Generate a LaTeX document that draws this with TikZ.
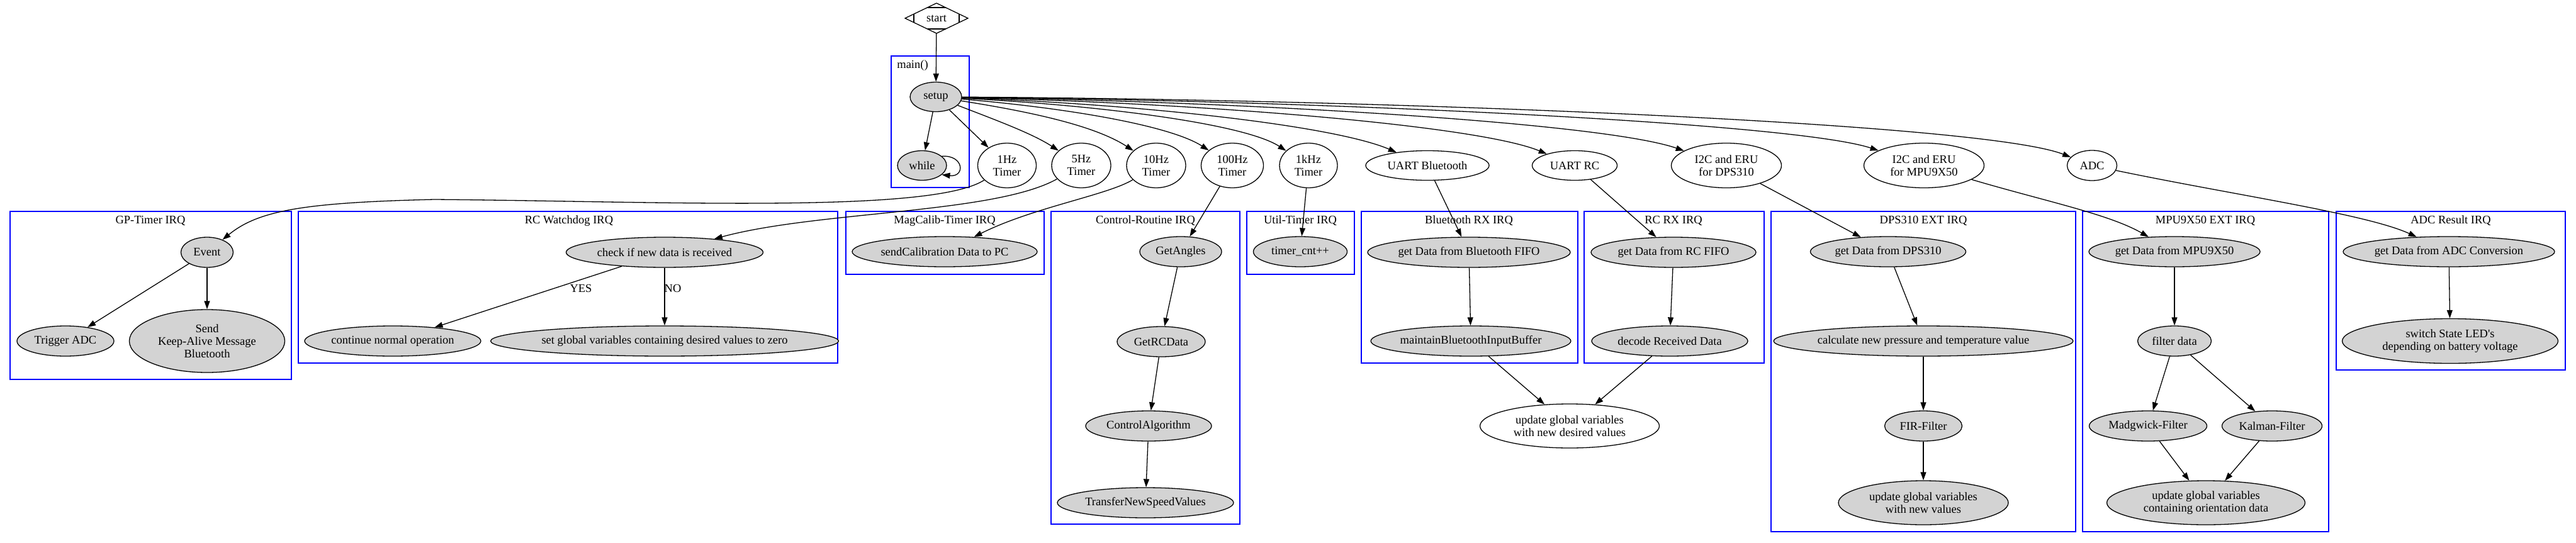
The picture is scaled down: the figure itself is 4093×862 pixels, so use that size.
\documentclass[tikz,border=0pt]{standalone}
\usepackage{fontspec}
\setmainfont{Liberation Serif}
\usetikzlibrary{shapes.geometric,arrows.meta,calc}
\definecolor{gvgray}{HTML}{D3D3D3}
\tikzset{
  task/.style={ellipse, draw, fill=gvgray, inner sep=0pt, align=center},
  event/.style={ellipse, draw, fill=white, inner sep=0pt, align=center},
  cluster/.style={draw=blue},
  clabel/.style={inner sep=0pt},
  wh/.style 2 args={minimum width=#1pt, minimum height=#2pt},
}
\begin{document}
\begin{tikzpicture}[x=1pt, y=-1pt, >={Triangle[length=13pt,width=9pt]}, line width=1.3pt, font=\fontsize{18.5}{20}\selectfont]
\useasboundingbox (0,0) rectangle (4093,862);

% clusters
\draw[cluster] (1416,89) rectangle (1540,298);
\node[clabel] (lmain) at (1450,104) {main()};
\draw[cluster] (16,336) rectangle (463,603);
\node[clabel] (lgp) at (239,351) {GP-Timer IRQ};
\draw[cluster] (474,336) rectangle (1331,577);
\node[clabel] (lwd) at (904,351) {RC Watchdog IRQ};
\draw[cluster] (1344,336) rectangle (1659,436);
\node[clabel] (lmag) at (1501,351) {MagCalib-Timer IRQ};
\draw[cluster] (1670,336) rectangle (1970,833);
\node[clabel] (lctrl) at (1820,351) {Control-Routine IRQ};
\draw[cluster] (1981,336) rectangle (2152,436);
\node[clabel] (lutil) at (2066,351) {Util-Timer IRQ};
\draw[cluster] (2163,336) rectangle (2507,577);
\node[clabel] (lbt) at (2334,351) {Bluetooth RX IRQ};
\draw[cluster] (2517,336) rectangle (2803,577);
\node[clabel] (lrc) at (2659,351) {RC RX IRQ};
\draw[cluster] (2814,336) rectangle (3298,845);
\node[clabel] (ldps) at (3056,351) {DPS310 EXT IRQ};
\draw[cluster] (3309,336) rectangle (3700,845);
\node[clabel] (lmpu) at (3504,351) {MPU9X50 EXT IRQ};
\draw[cluster] (3712,336) rectangle (4076,588);
\node[clabel] (ladc) at (3894,351) {ADC Result IRQ};

% start and main()
\node[diamond, draw, aspect=2, inner sep=0pt, outer sep=0pt, wh={100}{48}] (start) at (1488,29) {start};
\draw ($(start.north)!0.29!(start.west)$) -- ($(start.north)!0.29!(start.east)$);
\draw ($(start.south)!0.29!(start.west)$) -- ($(start.south)!0.29!(start.east)$);
\draw ($(start.west)!0.28!(start.north)$) -- ($(start.west)!0.28!(start.south)$);
\draw ($(start.east)!0.28!(start.north)$) -- ($(start.east)!0.28!(start.south)$);
\node[task, wh={82}{47}] (setup) at (1487,154) {setup};
\node[task, wh={78}{47}] (while) at (1465,263) {while};

% interrupt sources
\node[event, wh={93}{71}] (t1) at (1600,263) {1Hz\\Timer};
\node[event, wh={94}{71}] (t5) at (1718,263) {5Hz\\Timer};
\node[event, wh={94}{71}] (t10) at (1837,263) {10Hz\\Timer};
\node[event, wh={99}{71}] (t100) at (1958,263) {100Hz\\Timer};
\node[event, wh={92}{71}] (t1k) at (2079,263) {1kHz\\Timer};
\node[event, wh={196}{47}] (uartbt) at (2268,263) {UART Bluetooth};
\node[event, wh={135}{47}] (uartrc) at (2502,263) {UART RC};
\node[event, wh={175}{71}] (i2cdps) at (2743,263) {I2C and ERU\\for DPS310};
\node[event, wh={191}{71}] (i2cmpu) at (3057,263) {I2C and ERU\\for MPU9X50};
\node[event, wh={79}{48}] (adc) at (3324,263) {ADC};

% GP-Timer and watchdog
\node[task, wh={83}{48}] (ev) at (329,401) {Event};
\node[task, wh={154}{48}] (trig) at (104,542) {Trigger ADC};
\node[task, wh={247}{100}] (keep) at (329,542) {Send\\Keep-Alive Message\\Bluetooth};
\node[task, wh={313}{48}] (check) at (1056,401) {check if new data is received};
\node[task, wh={280}{48}] (cont) at (624,542) {continue normal operation};
\node[task, wh={534}{48}] (zero) at (1056,542) {set global variables containing desired values to zero};
\node (lyes) at (923,458) {YES};
\node (lno) at (1069,458) {NO};

% timer routines
\node[task, wh={294}{48}] (sendcal) at (1501,400) {sendCalibration Data to PC};
\node[task, wh={130}{48}] (getang) at (1876,400) {GetAngles};
\node[task, wh={140}{48}] (getrc) at (1845,543) {GetRCData};
\node[task, wh={200}{48}] (ctrl) at (1825,677) {ControlAlgorithm};
\node[task, wh={280}{48}] (speed) at (1820,799) {TransferNewSpeedValues};
\node[task, wh={149}{48}] (tcnt) at (2066,400) {timer\_cnt++};

% uart routines
\node[task, wh={322}{48}] (btfifo) at (2334,401) {get Data from Bluetooth FIFO};
\node[task, wh={314}{48}] (btbuf) at (2337,542) {maintainBluetoothInputBuffer};
\node[task, wh={262}{48}] (rcfifo) at (2659,401) {get Data from RC FIFO};
\node[task, wh={248}{48}] (decode) at (2653,542) {decode Received Data};
\node[event, wh={285}{70}] (desired) at (2494,677) {update global variables\\with new desired values};

% sensor routines
\node[task, wh={247}{48}] (dpsget) at (3000,400) {get Data from DPS310};
\node[task, wh={461}{48}] (dpscalc) at (3056,542) {calculate new pressure and temperature value};
\node[task, wh={123}{48}] (fir) at (3056,677) {FIR-Filter};
\node[task, wh={270}{70}] (dpsupd) at (3056,799) {update global variables\\with new values};
\node[task, wh={272}{48}] (mpuget) at (3455,400) {get Data from MPU9X50};
\node[task, wh={117}{48}] (filt) at (3455,542) {filter data};
\node[task, wh={187}{48}] (madg) at (3413,677) {Madgwick-Filter};
\node[task, wh={159}{48}] (kalm) at (3610,677) {Kalman-Filter};
\node[task, wh={315}{70}] (mpuupd) at (3505,799) {update global variables\\containing orientation data};
\node[task, wh={336}{48}] (adcget) at (3891,400) {get Data from ADC Conversion};
\node[task, wh={343}{71}] (led) at (3893,542) {switch State LED\textquotesingle s\\depending on battery voltage};

% edges of main()
\draw[->] (start) -- (setup);
\draw[->] (setup) -- (while);
\draw[->] (while.25) .. controls (1532,246) and (1534,282) .. (while.-25);
\draw[->] (setup) -- (t1);
\draw[->] (setup) .. controls (1580,190) and (1640,212) .. (t5);
\draw[->] (setup) .. controls (1640,178) and (1740,200) .. (t10);
\draw[->] (setup) .. controls (1700,172) and (1860,200) .. (t100);
\draw[->] (setup) .. controls (1760,168) and (1980,198) .. (t1k);
\draw[->] (setup) .. controls (1820,166) and (2120,200) .. (uartbt);
\draw[->] (setup) .. controls (1920,164) and (2350,200) .. (uartrc);
\draw[->] (setup) .. controls (2000,162) and (2550,196) .. (i2cdps);
\draw[->] (setup) .. controls (2100,160) and (2850,195) .. (i2cmpu);
\draw[->] (setup) .. controls (2200,158) and (3150,195) .. (adc);

% edges into the IRQs
\draw[->] (t1) .. controls (1480,340) and (1050,320) .. (690,317)
  .. controls (480,322) and (410,335) .. (ev);
\draw[->] (t5) .. controls (1580,340) and (1300,335) .. (check);
\draw[->] (t10) .. controls (1760,310) and (1640,330) .. (sendcal);
\draw[->] (t100) -- (getang);
\draw[->] (t1k) -- (tcnt);
\draw[->] (uartbt) -- (btfifo);
\draw[->] (uartrc) -- (rcfifo);
\draw[->] (i2cdps) -- (dpsget);
\draw[->] (i2cmpu) .. controls (3250,320) and (3350,340) .. (mpuget);
\draw[->] (adc) .. controls (3550,310) and (3760,340) .. (adcget);

% edges inside the IRQs
\draw[->] (ev) -- (trig);
\draw[->] (ev) -- (keep);
\draw[->] (check) -- (cont);
\draw[->] (check) -- (zero);
\draw[->] (getang) -- (getrc);
\draw[->] (getrc) -- (ctrl);
\draw[->] (ctrl) -- (speed);
\draw[->] (btfifo) -- (btbuf);
\draw[->] (rcfifo) -- (decode);
\draw[->] (btbuf) -- (desired);
\draw[->] (decode) -- (desired);
\draw[->] (dpsget) -- (dpscalc);
\draw[->] (dpscalc) -- (fir);
\draw[->] (fir) -- (dpsupd);
\draw[->] (mpuget) -- (filt);
\draw[->] (filt) -- (madg);
\draw[->] (filt) -- (kalm);
\draw[->] (madg) -- (mpuupd);
\draw[->] (kalm) -- (mpuupd);
\draw[->] (adcget) -- (led);
\end{tikzpicture}
\end{document}
